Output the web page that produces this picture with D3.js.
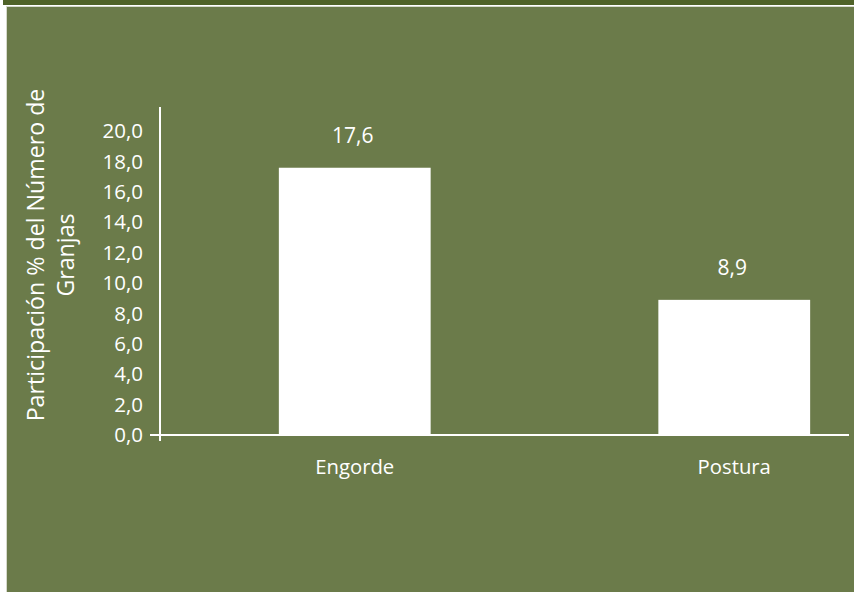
<!DOCTYPE html>
<html>
<head>
<meta charset="utf-8">
<script src="https://cdn.jsdelivr.net/npm/d3@7"></script>
<style>
  body { margin: 0; background: #fff; }
  text { font-family: "Open Sans", "DejaVu Sans", sans-serif; fill: #fff; }
</style>
</head>
<body>
<svg width="854" height="592"></svg>
<script>
// data
var categories = ["Engorde", "Postura"];
var values = [17.6, 8.9];
var yTicks = [0, 2, 4, 6, 8, 10, 12, 14, 16, 18, 20];
var yTitle = ["Participación % del Número de", "Granjas"];

var svg = d3.select("svg"),
    width = +svg.attr("width"),
    height = +svg.attr("height");

var fmt = function(d) { return d3.format(".1f")(d).replace(".", ","); };

// frame
svg.append("rect").attr("x", 3).attr("y", 0).attr("width", width - 3).attr("height", 5).attr("fill", "#4f6228");
svg.append("rect").attr("x", 6.5).attr("y", 6.5).attr("width", width - 6).attr("height", height - 6)
    .attr("fill", "#6b7b4a").attr("stroke", "#d6d9cc").attr("stroke-width", 1);

var y = d3.scaleLinear().domain([0, 21.6]).range([435, 107]);
var x = d3.scaleBand().domain(categories).range([165, 924]).paddingInner(0.6).paddingOuter(0.3);

var axisX0 = 160, axisXEnd = 849;

// bars
svg.selectAll(".bar")
    .data(values)
    .enter().append("rect")
    .attr("class", "bar")
    .attr("x", function(d, i) { return x(categories[i]); })
    .attr("y", function(d) { return y(d); })
    .attr("width", x.bandwidth())
    .attr("height", function(d) { return y(0) - y(d); })
    .attr("fill", "#fff");

// value labels
svg.selectAll(".val")
    .data(values)
    .enter().append("text")
    .attr("class", "val")
    .attr("x", function(d, i) { return x(categories[i]) + x.bandwidth() / 2 - 2; })
    .attr("y", function(d) { return y(d) - 25; })
    .attr("text-anchor", "middle")
    .style("font-size", "21px")
    .text(fmt);

// y axis
var yAxis = svg.append("g")
    .attr("transform", "translate(" + axisX0 + ",0)")
    .call(d3.axisLeft(y).tickValues(yTicks).tickSize(0).tickPadding(17).tickFormat(fmt));
yAxis.select(".domain").remove();
yAxis.selectAll("text").style("font-size", "20.5px").attr("fill", "#fff").attr("font-family", null);

svg.append("line")
    .attr("x1", axisX0).attr("x2", axisX0)
    .attr("y1", y(21.6)).attr("y2", y(0) + 6)
    .attr("stroke", "#fff").attr("stroke-width", 2);
svg.append("line")
    .attr("x1", axisX0 - 10).attr("x2", axisXEnd)
    .attr("y1", y(0)).attr("y2", y(0))
    .attr("stroke", "#fff").attr("stroke-width", 2);

// x labels
svg.selectAll(".cat")
    .data(categories)
    .enter().append("text")
    .attr("class", "cat")
    .attr("x", function(d) { return x(d) + x.bandwidth() / 2; })
    .attr("y", 474)
    .attr("text-anchor", "middle")
    .style("font-size", "20.3px")
    .text(function(d) { return d; });

// y title
var title = svg.append("text")
    .attr("transform", "translate(44,255) rotate(-90)")
    .attr("text-anchor", "middle")
    .style("font-size", "23.2px");
title.selectAll("tspan")
    .data(yTitle)
    .enter().append("tspan")
    .attr("x", 0)
    .attr("dy", function(d, i) { return i ? "1.28em" : 0; })
    .text(function(d) { return d; });
</script>
</body>
</html>
